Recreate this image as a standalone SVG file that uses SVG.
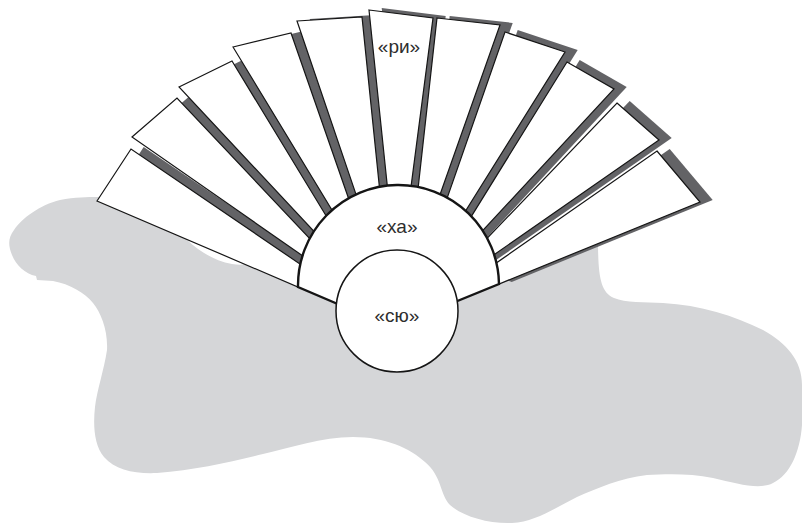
<svg xmlns="http://www.w3.org/2000/svg" xmlns:xlink="http://www.w3.org/1999/xlink" width="802" height="525" viewBox="0 0 802 525">
  <style>
    .ground { fill: #d5d6d8; }
    .shade { fill: #636366; stroke: none; }
    .slat { fill: #ffffff; stroke: #151515; stroke-width: 1.2; stroke-linejoin: miter; }
    .hub { fill: #ffffff; stroke: #151515; stroke-width: 2.4; stroke-linejoin: miter; }
    .core { fill: #ffffff; stroke: #151515; stroke-width: 1.5; }
    .label { font-family: "Liberation Sans", Arial, sans-serif; font-size: 19px; fill: #2e2e2e; text-anchor: middle; }
  </style>
  <defs>
    <!-- fan blades, listed from left to right -->
    <polygon id="b1" points="97,201 131,149 317.7,276.1 298,287"/>
    <polygon id="b2" points="132,137 177,98 330.2,260.3 322.3,269.5"/>
    <polygon id="b3" points="179,87 232,61 345.5,247.8 336,254.9"/>
    <polygon id="b4" points="233,47 291,33 362.6,238.7 352.3,243.6"/>
    <polygon id="b5" points="297,21 362,17 384.1,232.9 370.2,236.1"/>
    <polygon id="b6" points="369,10 433,18 405.1,232.1 392.1,232.1"/>
    <polygon id="b7" points="437,18 500,25 425.4,236 413.1,233.1"/>
    <polygon id="b8" points="505,32 565,52 444.7,244.2 433,238.6"/>
    <polygon id="b9" points="567,62 614,89 460.1,255 451.5,248.4"/>
    <polygon id="b10" points="617,103 659,140 473.4,269.1 465.9,260.4"/>
    <polygon id="b11" points="657,151 700,202 499,284 478,275.7"/>
  </defs>

  <!-- grey ground shape behind the fan -->
  <path id="ground" class="ground" d="M 97,197 C 130,192 165,215 187,240 C 200,252 215,261 232,264 C 245,266 255,263 265,258 L 300,275 L 330,290 L 470,290 L 520,265 L 598,238 C 598,275 600,292 614,298 C 625,303 645,302 663,303 C 700,305 735,316 763,330 C 786,343 802,360 802,385 L 802,425 C 800,452 790,475 773,483 C 760,490 738,484 713,478 C 690,473 665,474 647,475 C 620,478 598,488 577,497 C 555,508 535,522 512,523 C 488,524 462,516 450,505 C 440,495 442,476 425,462 C 410,448 385,437 353,437 C 322,437 290,448 263,454 C 230,462 195,470 157,473 C 135,474 115,470 104,457 C 94,445 93,425 95,407 C 97,390 104,370 107,350 C 108,330 101,313 93,303 C 85,293 70,284 53,281 L 37,280 L 36,276 C 25,274 16,265 12,255 C 8,245 8,238 14,230 C 22,218 40,205 60,200 C 75,197 88,197 97,197 Z"/>

  <!-- blades: each one drawn over its own dark edge -->
  <g id="blade-1"><use xlink:href="#b1" class="shade" transform="translate(12.7,-2.1)"/><use xlink:href="#b1" class="slat"/></g>
  <g id="blade-2"><use xlink:href="#b2" class="shade" transform="translate(12.7,-2.1)"/><use xlink:href="#b2" class="slat"/></g>
  <g id="blade-3"><use xlink:href="#b3" class="shade" transform="translate(12.7,-2.1)"/><use xlink:href="#b3" class="slat"/></g>
  <g id="blade-4"><use xlink:href="#b4" class="shade" transform="translate(12.7,-2.1)"/><use xlink:href="#b4" class="slat"/></g>
  <g id="blade-5"><use xlink:href="#b5" class="shade" transform="translate(12.7,-2.1)"/><use xlink:href="#b5" class="slat"/></g>
  <g id="blade-6">
    <use xlink:href="#b6" class="shade" transform="translate(12.7,-2.1)"/><use xlink:href="#b6" class="slat"/>
    <text class="label" x="399" y="53">«ри»</text>
  </g>
  <g id="blade-7"><use xlink:href="#b7" class="shade" transform="translate(12.7,-2.1)"/><use xlink:href="#b7" class="slat"/></g>
  <g id="blade-8"><use xlink:href="#b8" class="shade" transform="translate(12.7,-2.1)"/><use xlink:href="#b8" class="slat"/></g>
  <g id="blade-9"><use xlink:href="#b9" class="shade" transform="translate(12.7,-2.1)"/><use xlink:href="#b9" class="slat"/></g>
  <g id="blade-10"><use xlink:href="#b10" class="shade" transform="translate(12.7,-2.1)"/><use xlink:href="#b10" class="slat"/></g>
  <g id="blade-11"><use xlink:href="#b11" class="shade" transform="translate(12.7,-2.1)"/><use xlink:href="#b11" class="slat"/></g>

  <!-- half disc at the hinge -->
  <g id="node-ha">
    <path class="hub" d="M 298,287 A 100.5,100.5 0 0 1 499,284 L 398,325.2 L 398,329.8 Z"/>
    <text class="label" x="397" y="233">«ха»</text>
  </g>

  <!-- centre circle -->
  <g id="node-syu">
    <circle class="core" cx="397" cy="311" r="61"/>
    <text class="label" x="397" y="322">«сю»</text>
  </g>
</svg>
